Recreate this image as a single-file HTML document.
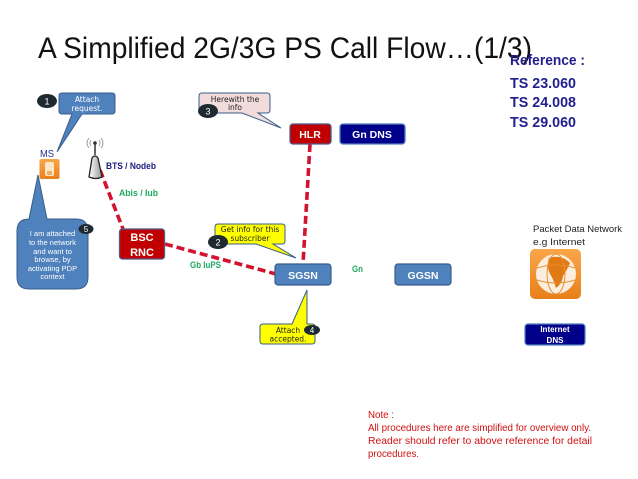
<!DOCTYPE html>
<html>
<head>
<meta charset="utf-8">
<style>
html,body{margin:0;padding:0;background:#fff;width:638px;height:479px;overflow:hidden}
svg{display:block}
text{font-family:"Liberation Sans",sans-serif}
.hand{font-size:8px;font-family:"DejaVu Sans",sans-serif;text-anchor:middle}
.b{font-weight:bold}
</style>
</head>
<body>
<svg width="638" height="479" viewBox="0 0 638 479" xmlns="http://www.w3.org/2000/svg">
<defs>
<linearGradient id="o" x1="0" y1="0" x2="0" y2="1"><stop offset="0" stop-color="#f9a64a"/><stop offset="1" stop-color="#e8801a"/></linearGradient>
<linearGradient id="g" x1="0" y1="0" x2="1" y2="0"><stop offset="0" stop-color="#fff"/><stop offset="1" stop-color="#999"/></linearGradient>
</defs>
<rect width="638" height="479" fill="#fff"/>

<text x="38" y="58" font-size="30" fill="#111" textLength="494" lengthAdjust="spacingAndGlyphs">A Simplified 2G/3G PS Call Flow…(1/3)</text>
<g fill="#1f1f8f" class="b" font-size="14.500">
<text x="510" y="65" textLength="75" lengthAdjust="spacingAndGlyphs">Reference :</text>
<text x="510" y="88" textLength="66" lengthAdjust="spacingAndGlyphs">TS 23.060</text>
<text x="510" y="107" textLength="66" lengthAdjust="spacingAndGlyphs">TS 24.008</text>
<text x="510" y="127" textLength="66" lengthAdjust="spacingAndGlyphs">TS 29.060</text>
</g>

<!-- connectors -->
<g stroke="#d2122e" stroke-width="3.600" stroke-dasharray="8 4" fill="none">
<line x1="100" y1="170" x2="123" y2="229"/>
<line x1="165" y1="244" x2="276" y2="274"/>
<line x1="310" y1="144" x2="303" y2="264"/>
</g>

<!-- callout 1 -->
<path d="M62 93H112Q115 93 115 96V111Q115 114 112 114H82L57 152L72 114H62Q59 114 59 111V96Q59 93 62 93Z" fill="#4f81bd" stroke="#385d8a"/>
<text class="hand" x="87" y="102" fill="#fff" style="font-size:7.500px">Attach</text>
<text class="hand" x="87" y="111" fill="#fff" style="font-size:7.500px">request.</text>
<ellipse cx="47" cy="101" rx="10" ry="7" fill="#1f2a30"/>
<text x="47" y="104.500" font-size="9" fill="#fff" text-anchor="middle">1</text>

<!-- MS -->
<text x="40" y="157" font-size="10.500" fill="#1f2f8f" textLength="14" lengthAdjust="spacingAndGlyphs">MS</text>
<rect x="39.500" y="159" width="20" height="20" rx="2" fill="url(#o)"/>
<rect x="45" y="162" width="9" height="14" rx="2" fill="#fbe6c8"/>
<rect x="47" y="171" width="5" height="4" fill="#eeb060"/>

<!-- antenna -->
<path d="M89 177L92 158Q95 154 98 158L102 177Q96 180 89 177Z" fill="url(#g)" stroke="#222" stroke-width="1.300"/>
<line x1="95" y1="155" x2="95" y2="144" stroke="#333" stroke-width="1.500"/>
<circle cx="95" cy="143" r="1.800" fill="#333"/>
<g fill="none" stroke="#999" stroke-width="0.900">
<path d="M91 140Q89 143 91 146"/><path d="M89 138Q85 143 89 148"/>
<path d="M99 140Q101 143 99 146"/><path d="M101 138Q105 143 101 148"/>
</g>
<text x="106" y="169" font-size="9.500" class="b" fill="#1a1a80" textLength="50" lengthAdjust="spacingAndGlyphs">BTS / Nodeb</text>
<text x="119" y="196" font-size="9.500" class="b" fill="#1fa860" textLength="39" lengthAdjust="spacingAndGlyphs">Abis / Iub</text>

<!-- callout 5 -->
<path d="M29 219L38 175L47 219H76Q88 219 88 231V277Q88 289 76 289H29Q17 289 17 277V231Q17 219 29 219Z" fill="#4f81bd" stroke="#385d8a"/>
<g class="hand" fill="#fff" style="font-size:7.500px">
<text x="52.500" y="236">I am attached</text>
<text x="52.500" y="245">to the network</text>
<text x="52.500" y="254">and want to</text>
<text x="52.500" y="262">browse, by</text>
<text x="52.500" y="271">activating PDP</text>
<text x="52.500" y="279">context</text>
</g>
<ellipse cx="86" cy="229" rx="7.500" ry="5" fill="#1f2a30"/>
<text x="86" y="232" font-size="8" fill="#fff" text-anchor="middle">5</text>

<!-- BSC -->
<rect x="119.500" y="229" width="45" height="30" rx="3" fill="#c00000" stroke="#4f5a8a" stroke-width="1.300"/>
<text x="142" y="241" font-size="11" class="b" fill="#fff" text-anchor="middle">BSC</text>
<text x="142" y="256" font-size="11" class="b" fill="#fff" text-anchor="middle">RNC</text>

<!-- HLR / DNS -->
<rect x="290" y="124" width="41" height="20" rx="3" fill="#c00000" stroke="#4f5a8a" stroke-width="1.300"/>
<text x="310" y="138" font-size="10.500" class="b" fill="#fff" text-anchor="middle">HLR</text>
<rect x="340" y="124" width="65" height="20" rx="3" fill="#00008b" stroke="#4f81bd" stroke-width="1.300"/>
<text x="372" y="138" font-size="10.500" class="b" fill="#fff" text-anchor="middle">Gn DNS</text>

<!-- callout 3 -->
<path d="M202 93H267Q270 93 270 96V110Q270 113 267 113H258L281 128L242 113H202Q199 113 199 110V96Q199 93 202 93Z" fill="#f2dcdb" stroke="#385d8a"/>
<text class="hand" x="235" y="102" fill="#222" style="font-size:7.500px">Herewith the</text>
<text class="hand" x="235" y="110" fill="#222" style="font-size:7.500px">info</text>
<ellipse cx="208" cy="111" rx="10" ry="7" fill="#1f2a30"/>
<text x="208" y="114.500" font-size="9" fill="#fff" text-anchor="middle">3</text>

<!-- callout 2 -->
<path d="M218 224H282Q285 224 285 227V241Q285 244 282 244H273L296 258L256 244H218Q215 244 215 241V227Q215 224 218 224Z" fill="#ffff00" stroke="#385d8a"/>
<text class="hand" x="250" y="232" fill="#222" style="font-size:7.500px">Get info for this</text>
<text class="hand" x="250" y="241" fill="#222" style="font-size:7.500px">subscriber</text>
<ellipse cx="218" cy="242" rx="10" ry="7" fill="#1f2a30"/>
<text x="218" y="245.500" font-size="9" fill="#fff" text-anchor="middle">2</text>

<!-- SGSN / GGSN -->
<rect x="275" y="264" width="56" height="21" rx="3" fill="#4f81bd" stroke="#385d8a" stroke-width="1.200"/>
<text x="303" y="279" font-size="10.500" class="b" fill="#fff" text-anchor="middle">SGSN</text>
<rect x="395" y="264" width="56" height="21" rx="3" fill="#4f81bd" stroke="#385d8a" stroke-width="1.200"/>
<text x="423" y="279" font-size="10.500" class="b" fill="#fff" text-anchor="middle">GGSN</text>
<text x="190" y="268" font-size="9.500" class="b" fill="#1fa860" textLength="31" lengthAdjust="spacingAndGlyphs">Gb IuPS</text>
<text x="352" y="272" font-size="9.500" class="b" fill="#1fa860" textLength="11" lengthAdjust="spacingAndGlyphs">Gn</text>

<!-- callout 4 -->
<path d="M263 324H292L307 290L307 324H312Q315 324 315 327V341Q315 344 312 344H263Q260 344 260 341V327Q260 324 263 324Z" fill="#ffff00" stroke="#385d8a"/>
<text class="hand" x="288" y="333" fill="#222" style="font-size:7.500px">Attach</text>
<text class="hand" x="288" y="341.500" fill="#222" style="font-size:7.500px">accepted.</text>
<ellipse cx="312" cy="330" rx="8" ry="5" fill="#1f2a30"/>
<text x="312" y="333" font-size="8" fill="#fff" text-anchor="middle">4</text>

<!-- PDN -->
<text x="533" y="232" font-size="9.500" fill="#222" textLength="89" lengthAdjust="spacingAndGlyphs">Packet Data Network</text>
<text x="533" y="245" font-size="9.500" fill="#222" textLength="52" lengthAdjust="spacingAndGlyphs">e.g Internet</text>
<rect x="530" y="249" width="51" height="50" rx="5" fill="url(#o)"/>
<circle cx="556" cy="274" r="20" fill="#fbeede"/>
<path d="M549 258Q561 254 570 263Q566 272 563 276Q562 284 556 288Q553 278 550 274Q546 266 549 258Z" fill="#e07a14"/>
<g fill="none" stroke="#e9902f" stroke-width="1">
<ellipse cx="556" cy="274" rx="9" ry="20"/>
<path d="M537 268Q556 262 575 268"/><path d="M537 280Q556 286 575 280"/>
</g>

<!-- Internet DNS -->
<rect x="525" y="324" width="60" height="21" rx="3" fill="#00008b" stroke="#4f81bd" stroke-width="1.200"/>
<text x="555" y="332" font-size="8" class="b" fill="#fff" text-anchor="middle">Internet</text>
<text x="555" y="343" font-size="8" class="b" fill="#fff" text-anchor="middle">DNS</text>

<!-- note -->
<g font-size="10" fill="#d01010">
<text x="368" y="418" textLength="26" lengthAdjust="spacingAndGlyphs">Note :</text>
<text x="368" y="431" textLength="223" lengthAdjust="spacingAndGlyphs">All procedures here are simplified for overview only.</text>
<text x="368" y="444" textLength="224" lengthAdjust="spacingAndGlyphs">Reader should refer to above reference for detail</text>
<text x="368" y="457" textLength="51" lengthAdjust="spacingAndGlyphs">procedures.</text>
</g>
</svg>
</body>
</html>
